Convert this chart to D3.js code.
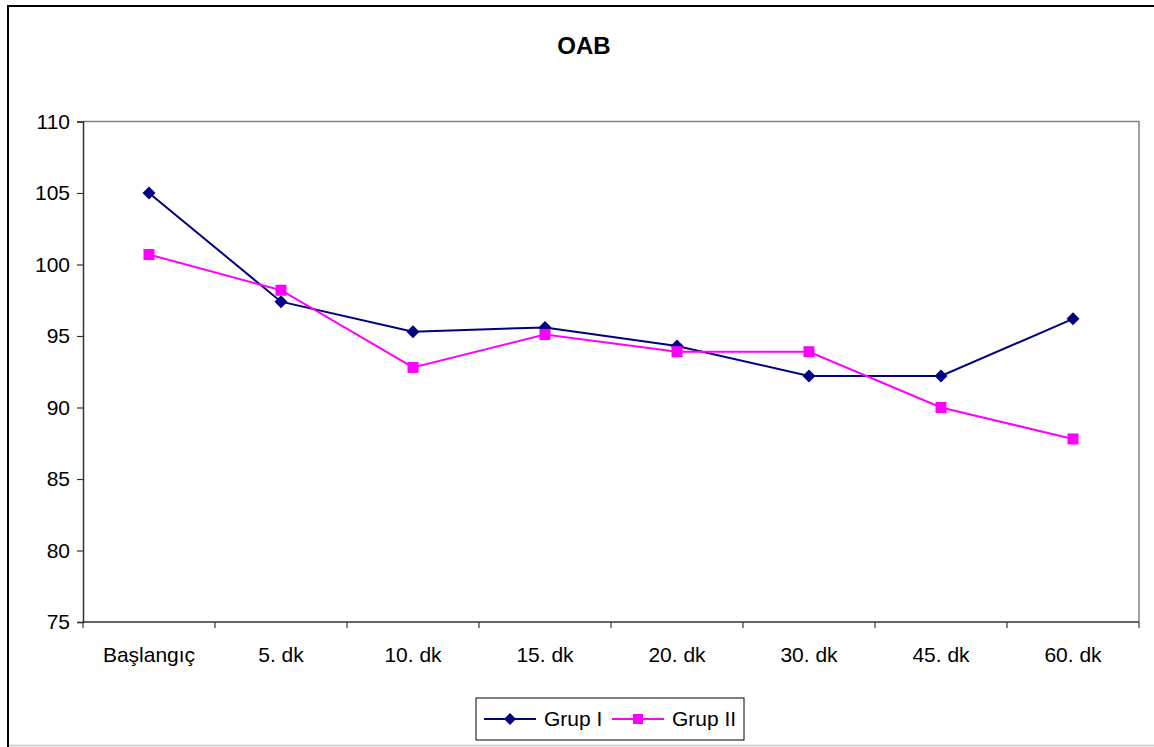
<!DOCTYPE html>
<html>
<head>
<meta charset="utf-8">
<script src="https://cdn.jsdelivr.net/npm/d3@7"></script>
<style>
  html, body { margin: 0; padding: 0; background: #fff; }
  svg { display: block; font-family: "Liberation Sans", Arial, sans-serif; }
</style>
</head>
<body>
<svg id="chart" width="1154" height="747"></svg>
<script>
// Time points and mean OAB values per group
const categories = ["Başlangıç", "5. dk", "10. dk", "15. dk", "20. dk", "30. dk", "45. dk", "60. dk"];
const grupI  = [105.0, 97.4, 95.3, 95.6, 94.3, 92.2, 92.2, 96.2];
const grupII = [100.7, 98.2, 92.8, 95.1, 93.9, 93.9, 90.0, 87.8];
const yTicks = [75, 80, 85, 90, 95, 100, 105, 110];
const seriesNames = ["Grup I", "Grup II"];

const svg = d3.select("#chart");
const W = 1154, H = 747;
const FS = 21;

// Outer chart frame (right and bottom edges run past the canvas)
svg.append("rect").attr("x", 8).attr("y", 6).attr("width", W + 10).attr("height", H + 10)
  .attr("fill", "#fff").attr("stroke", "#000").attr("stroke-width", 2);
svg.append("line").attr("x1", 9).attr("x2", W).attr("y1", 745.5).attr("y2", 745.5)
  .attr("stroke", "#c8c8c8").attr("stroke-width", 1.5);

const plot = { left: 83, right: 1139, top: 121.5, bottom: 622 };

const x = d3.scaleBand().domain(categories).range([plot.left, plot.right]);
const y = d3.scaleLinear().domain([75, 110]).range([plot.bottom, plot.top]);

// Title
svg.append("text").attr("x", 584).attr("y", 54).attr("text-anchor", "middle")
  .attr("font-size", 24).attr("font-weight", "bold").text("OAB");

// Plot area border (top/right)
svg.append("path")
  .attr("d", `M${plot.left},${plot.top}H${plot.right}V${plot.bottom}`)
  .attr("fill", "none").attr("stroke", "#808080").attr("stroke-width", 1.5);

// Y axis
const yAxis = d3.axisLeft(y).tickValues(yTicks).tickSize(6).tickPadding(7);
const gy = svg.append("g").attr("transform", `translate(${plot.left},0)`).call(yAxis);
gy.select(".domain").attr("stroke", "#333").attr("stroke-width", 1.5);
gy.selectAll(".tick line").attr("stroke", "#333").attr("stroke-width", 1.2);
gy.selectAll(".tick text").attr("font-size", FS).attr("fill", "#000")
  .attr("font-family", "Liberation Sans, Arial, sans-serif");

// X axis: tick marks on category boundaries, labels centred
const gx = svg.append("g").attr("transform", `translate(0,${plot.bottom})`);
gx.append("line").attr("x1", plot.left).attr("x2", plot.right)
  .attr("stroke", "#333").attr("stroke-width", 1.5);
const bounds = categories.map(c => x(c)).concat([x(categories[categories.length - 1]) + x.bandwidth()]);
gx.selectAll("line.tk").data(bounds).join("line").attr("class", "tk")
  .attr("x1", d => d).attr("x2", d => d).attr("y1", 0).attr("y2", 6)
  .attr("stroke", "#333").attr("stroke-width", 1.2);
gx.selectAll("text").data(categories).join("text")
  .attr("x", d => x(d) + x.bandwidth() / 2).attr("y", 40)
  .attr("text-anchor", "middle").attr("font-size", FS).text(d => d);

const cx = c => x(c) + x.bandwidth() / 2;
const line = d3.line().x((d, i) => cx(categories[i])).y(d => y(d));

// Grup I – navy line with diamonds
svg.append("path").datum(grupI).attr("d", line)
  .attr("fill", "none").attr("stroke", "#000080").attr("stroke-width", 2);
// Grup II – magenta line with squares
svg.append("path").datum(grupII).attr("d", line)
  .attr("fill", "none").attr("stroke", "#ff00ff").attr("stroke-width", 2);

svg.selectAll("path.m1").data(grupI).join("path").attr("class", "m1")
  .attr("d", d3.symbol().type(d3.symbolSquare).size(84))
  .attr("transform", (d, i) => `translate(${cx(categories[i])},${y(d)}) rotate(45)`)
  .attr("fill", "#000080");
svg.selectAll("rect.m2").data(grupII).join("rect").attr("class", "m2")
  .attr("x", (d, i) => cx(categories[i]) - 5.5).attr("y", d => y(d) - 5.5)
  .attr("width", 11).attr("height", 11).attr("fill", "#ff00ff");

// Legend
const lg = svg.append("g");
lg.append("rect").attr("x", 476).attr("y", 698).attr("width", 268).attr("height", 42)
  .attr("fill", "#fff").attr("stroke", "#000").attr("stroke-width", 1);
const items = [
  { name: seriesNames[0], color: "#000080", shape: "diamond", x0: 484, tx: 544 },
  { name: seriesNames[1], color: "#ff00ff", shape: "square", x0: 612, tx: 672 }
];
items.forEach(it => {
  lg.append("line").attr("x1", it.x0).attr("x2", it.x0 + 52).attr("y1", 719).attr("y2", 719)
    .attr("stroke", it.color).attr("stroke-width", 2);
  if (it.shape === "diamond") {
    lg.append("path").attr("d", d3.symbol().type(d3.symbolSquare).size(72))
      .attr("transform", `translate(${it.x0 + 26},719) rotate(45)`).attr("fill", it.color);
  } else {
    lg.append("rect").attr("x", it.x0 + 21).attr("y", 714).attr("width", 10).attr("height", 10)
      .attr("fill", it.color);
  }
  lg.append("text").attr("x", it.tx).attr("y", 726).attr("font-size", FS).text(it.name);
});
</script>
</body>
</html>
